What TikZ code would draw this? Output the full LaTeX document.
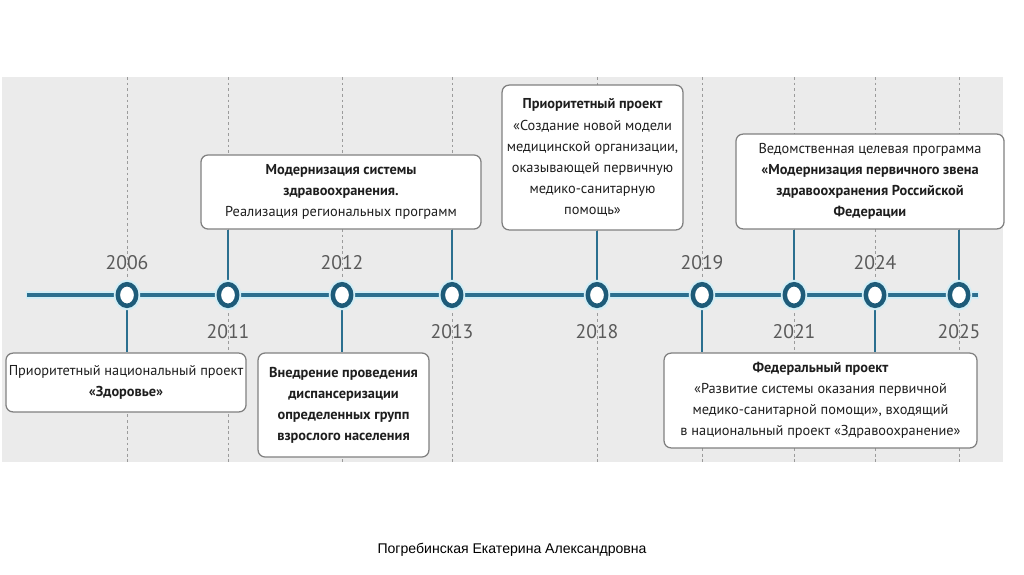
\documentclass[tikz,border=0pt]{standalone}
\usepackage{fontspec}
\setmainfont{PT Sans}
\newfontfamily\footfont{Liberation Sans}
\usepackage{xcolor}
\definecolor{tlLine}{HTML}{2B6F8F}
\definecolor{tlDot}{HTML}{1D5B79}
\definecolor{tlGlow}{HTML}{D2EEF6}
\definecolor{bgGray}{HTML}{EBEBEB}
\definecolor{boxEdge}{HTML}{808080}
\definecolor{yearGray}{HTML}{5A5A5A}
\definecolor{dashGray}{HTML}{9B9B9B}
\definecolor{txtDark}{HTML}{1E1E1E}
\usepackage{tikz}
\usetikzlibrary{shapes.geometric}

\tikzset{
  eventBox/.style={draw=boxEdge, line width=0.9pt, fill=white, rounded corners=5pt,
                   align=center, inner sep=1pt, text=txtDark,
                   font=\fontsize{10.2}{15}\selectfont},
  yearDot/.style={ellipse, draw=tlDot, line width=3.2pt, fill=white,
                  minimum width=0.46cm, minimum height=0.54cm, inner sep=0pt},
  yearLabel/.style={text=yearGray, font=\fontsize{14}{16}\selectfont},
  link/.style={tlLine, line width=1.8pt}
}

\begin{document}
\begin{tikzpicture}[x=0.025cm, y=-0.025cm]
  \useasboundingbox (0,0) rectangle (1024,574);

  % ---------------- the gray panel and the year guides ----------------
  \fill[bgGray] (2,77) rectangle (1003,462);
  \foreach \xx in {127,228,342,452,597,702,794,875,959}
    \draw[dashGray, line width=0.6pt, dash pattern=on 2pt off 2pt] (\xx,77) -- (\xx,462);

  % ---------------- the axis ----------------
  \draw[tlGlow, line width=5pt] (26,295) -- (979,295);
  \draw[tlLine, line width=2.2pt] (27,295) -- (978,295);

  % ---------------- events above the axis ----------------
  \node[eventBox, minimum width=7cm, minimum height=1.85cm] (boxMod) at (341,192)
    {\textbf{Модернизация системы}\\\textbf{здравоохранения.}\\Реализация региональных программ};
  \node[eventBox, minimum width=4.52cm, minimum height=3.62cm] (boxPrior) at (592.5,157.5)
    {\textbf{Приоритетный проект}\\«Создание новой модели\\медицинской организации,\\оказывающей первичную\\медико-санитарную\\помощь»};
  \node[eventBox, minimum width=6.7cm, minimum height=2.37cm] (boxVed) at (870,181.5)
    {Ведомственная целевая программа\\\textbf{«Модернизация первичного звена}\\\textbf{здравоохранения Российской}\\\textbf{Федерации}};

  % ---------------- events below the axis ----------------
  \node[eventBox, minimum width=6cm, minimum height=1.47cm] (boxZdr) at (126,382.5)
    {Приоритетный национальный проект\\\textbf{«Здоровье»}};
  \node[eventBox, minimum width=4.27cm, minimum height=2.6cm] (boxDisp) at (343.5,405)
    {\textbf{Внедрение проведения}\\\textbf{диспансеризации}\\\textbf{определенных групп}\\\textbf{взрослого населения}};
  \node[eventBox, minimum width=7.82cm, minimum height=2.37cm] (boxFed) at (820.5,400.5)
    {\textbf{Федеральный проект}\\«Развитие системы оказания первичной\\медико-санитарной помощи», входящий\\в национальный проект «Здравоохранение»};

  % ---------------- the years ----------------
  \foreach \yr/\xx/\ly in {2006/127/263,2011/228/332,2012/342/263,2013/452/332,2018/597/332,
                           2019/702/263,2021/794/332,2024/875/263,2025/959/332} {
    \node[yearLabel] (l\yr) at (\xx,\ly) {\yr};
    \coordinate (p\yr) at (\xx,295);
  }

  % ---------------- connectors ----------------
  \draw[link] (boxMod.south -| p2011) -- (p2011);
  \draw[link] (boxMod.south -| p2013) -- (p2013);
  \draw[link] (boxPrior.south -| p2018) -- (p2018);
  \draw[link] (boxVed.south -| p2021) -- (p2021);
  \draw[link] (boxVed.south -| p2025) -- (p2025);
  \draw[link] (p2006) -- (boxZdr.north -| p2006);
  \draw[link] (p2012) -- (boxDisp.north -| p2012);
  \draw[link] (p2019) -- (boxFed.north -| p2019);
  \draw[link] (p2024) -- (boxFed.north -| p2024);

  % ---------------- the year dots ----------------
  \foreach \yr in {2006,2011,2012,2013,2018,2019,2021,2024,2025} {
    \fill[tlGlow] (p\yr) ellipse [x radius=0.33cm, y radius=0.38cm];
    \node[yearDot] (y\yr) at (p\yr) {};
  }

  % ---------------- signature ----------------
  \node[font=\footfont\fontsize{10}{12}\selectfont] (sign) at (512,550)
    {Погребинская Екатерина Александровна};
\end{tikzpicture}
\end{document}
